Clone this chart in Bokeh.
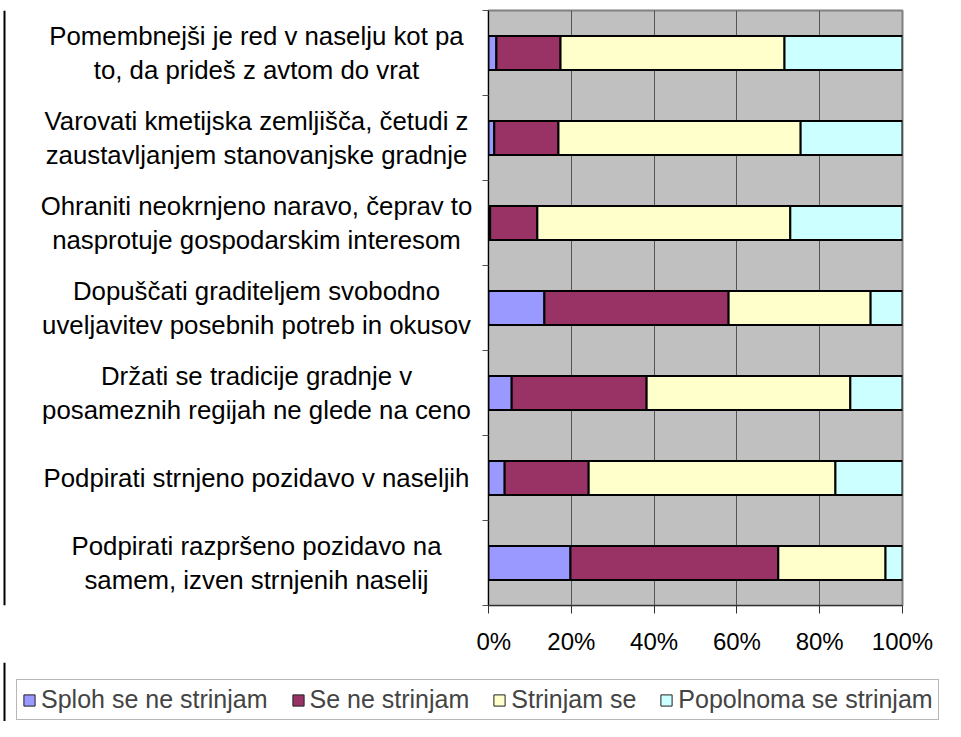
from bokeh.plotting import figure
from bokeh.layouts import row, column
from bokeh.models import (Range1d, FixedTicker, PrintfTickFormatter, Span,
                          Legend, LegendItem, ColumnDataSource)
from bokeh.core.properties import value
from bokeh.embed import file_html
from bokeh.resources import INLINE

# ---- data (top category first) ----
labels_line1 = [
    "Pomembnejši je red v naselju kot pa",
    "Varovati kmetijska zemljišča, četudi z",
    "Ohraniti neokrnjeno naravo, čeprav to",
    "Dopuščati graditeljem svobodno",
    "Držati se tradicije gradnje v",
    "Podpirati strnjeno pozidavo v naseljih",
    "Podpirati razpršeno pozidavo na",
]
labels_line2 = [
    "to, da prideš z avtom do vrat",
    "zaustavljanjem stanovanjske gradnje",
    "nasprotuje gospodarskim interesom",
    "uveljavitev posebnih potreb in okusov",
    "posameznih regijah ne glede na ceno",
    "",
    "samem, izven strnjenih naselij",
]
series_names = ["Sploh se ne strinjam", "Se ne strinjam", "Strinjam se", "Popolnoma se strinjam"]
sploh = [1.9, 1.4, 0.4, 13.5, 5.6, 3.9, 19.8]
se_ne = [15.5, 15.5, 11.4, 44.5, 32.6, 20.3, 50.2]
strinjam = [54.1, 58.5, 61.1, 34.3, 49.2, 59.6, 25.9]
popolnoma = [28.5, 24.6, 27.1, 7.7, 12.6, 16.2, 4.1]
x_ticks = [0, 20, 40, 60, 80, 100]

colors = ["#9999FF", "#993366", "#FFFFCC", "#CCFFFF"]
FONT = "Liberation Sans"

# ---- layout constants (pixels) ----
TOTAL_W, TOTAL_H = 945, 721
LABEL_W = 476
CHART_W = TOTAL_W - LABEL_W
TOP_H = 662
FRAME_LEFT, FRAME_W = 488, 414
FRAME_TOP, FRAME_BOTTOM = 10, 605
LABEL_CX = 256
LINE_OFF = 17  # half distance between the two lines of a label, px

n = len(labels_line1)
ypos = [n - 0.5 - i for i in range(n)]
units_per_px = n / (FRAME_BOTTOM - FRAME_TOP)
stack_cols = ["s0", "s1", "s2", "s3"]

source = ColumnDataSource(dict(y=ypos, s0=sploh, s1=se_ne, s2=strinjam, s3=popolnoma))

# ---------------- chart ----------------
p = figure(width=CHART_W, height=TOP_H, output_backend="svg", toolbar_location=None,
           x_range=Range1d(0, 100), y_range=Range1d(0, n),
           min_border_left=FRAME_LEFT - LABEL_W,
           min_border_right=CHART_W - (FRAME_LEFT - LABEL_W) - FRAME_W,
           min_border_top=FRAME_TOP, min_border_bottom=TOP_H - FRAME_BOTTOM)

p.hbar_stack(stack_cols, y="y", height=0.4, source=source,
             fill_color=colors, line_color="black", line_width=2)

p.background_fill_color = "#C0C0C0"
p.border_fill_color = "white"
p.outline_line_color = "#808080"
p.outline_line_width = 2

p.xaxis.ticker = FixedTicker(ticks=x_ticks)
p.xaxis.formatter = PrintfTickFormatter(format="%d%%")
p.xaxis.major_label_text_font = FONT
p.xaxis.major_label_text_font_size = "24px"
p.xaxis.major_label_text_color = "black"
p.xaxis.major_tick_out = 8
p.xaxis.major_tick_in = 0
p.xaxis.minor_tick_line_color = None
p.xaxis.axis_line_color = "#303030"
p.xaxis.major_tick_line_color = "#303030"
p.xaxis.major_label_standoff = 14

p.yaxis.ticker = FixedTicker(ticks=list(range(n + 1)))
p.yaxis.major_label_overrides = {i: "" for i in range(n + 1)}
p.yaxis.major_label_text_color = None
p.yaxis.major_label_standoff = 0
p.yaxis.major_tick_out = 6
p.yaxis.major_tick_in = 0
p.yaxis.minor_tick_line_color = None
p.yaxis.axis_line_color = "black"
p.yaxis.major_tick_line_color = "#505050"

p.xgrid.ticker = FixedTicker(ticks=x_ticks)
p.xgrid.grid_line_color = "#555555"
p.xgrid.grid_line_width = 1
p.ygrid.grid_line_color = None

# ---------------- category labels (same vertical frame as chart) ----------------
lab = figure(width=LABEL_W, height=TOP_H, output_backend="svg", toolbar_location=None,
             x_range=Range1d(0, LABEL_W), y_range=Range1d(0, n),
             x_axis_location=None, y_axis_location=None, title=None,
             min_border_left=0, min_border_right=0,
             min_border_top=FRAME_TOP, min_border_bottom=TOP_H - FRAME_BOTTOM)
lab.outline_line_color = None
lab.grid.visible = False
lab.background_fill_color = "white"

tx, ty, tt = [], [], []
off = LINE_OFF * units_per_px
for i in range(n):
    if labels_line2[i]:
        tx += [LABEL_CX, LABEL_CX]
        ty += [ypos[i] + off, ypos[i] - off]
        tt += [labels_line1[i], labels_line2[i]]
    else:
        tx.append(LABEL_CX)
        ty.append(ypos[i])
        tt.append(labels_line1[i])
lab.text(x=tx, y=ty, text=tt, text_align="center", text_baseline="middle",
         text_font=value(FONT), text_font_size=value("25.8px"), text_color="black")
lab.add_layout(Span(location=4, dimension="height", line_color="black", line_width=2))

# ---------------- legend strip ----------------
LEG_H = TOTAL_H - TOP_H
leg = figure(width=TOTAL_W, height=LEG_H, output_backend="svg", toolbar_location=None,
             x_range=Range1d(0, 100), y_range=Range1d(n + 1, n + 2),
             x_axis_location=None, y_axis_location=None, title=None,
             min_border_left=0, min_border_right=0,
             min_border_top=0, min_border_bottom=0)
leg.outline_line_color = None
leg.grid.visible = False
# same series drawn outside this strip's visible range; they only feed the legend
proxies = leg.hbar_stack(stack_cols, y="y", height=0.4, source=source,
                         fill_color=colors, line_color="#202020", line_width=1)
legend = Legend(items=[LegendItem(label=series_names[k], renderers=[proxies[k]])
                       for k in range(4)],
                location=(16, 1), orientation="horizontal")
legend.label_text_font = FONT
legend.label_text_font_size = "25px"
legend.glyph_width = 14
legend.glyph_height = 14
legend.label_standoff = 5
legend.spacing = 23
legend.padding = 5
legend.margin = 0
legend.border_line_color = "#707070"
legend.border_line_width = 1
legend.background_fill_color = "white"
legend.background_fill_alpha = 1
leg.add_layout(legend, "center")
leg.add_layout(Span(location=4 / TOTAL_W * 100, dimension="height",
                    line_color="black", line_width=2))

layout = column(row(lab, p, spacing=0), leg, spacing=0)
open("out.html", "w").write(file_html(layout, INLINE))
